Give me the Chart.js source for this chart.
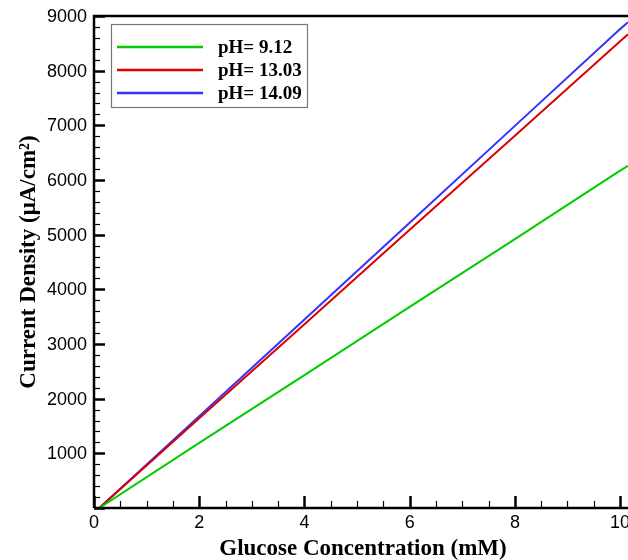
<!DOCTYPE html>
<html>
<head>
<meta charset="utf-8">
<script src="https://cdn.jsdelivr.net/npm/chart.js@4"></script>
<style>
  html, body { margin: 0; padding: 0; background: #fff; }
  #wrap { width: 628px; height: 560px; }
</style>
</head>
<body>
<div id="wrap"><canvas id="myChart" width="628" height="560"></canvas></div>
<script>
// glucose concentration (mM)
const conc = [0.1, 2, 4, 6, 8, 10, 10.15];
// current density (uA/cm2) per pH
const ph912 = [0, 1190, 2430, 3680, 4920, 6170, 6260];
const ph1303 = [0, 1640, 3360, 5090, 6810, 8540, 8665];
const ph1409 = [0, 1680, 3450, 5220, 6990, 8760, 8885];
const seriesLabels = ['pH= 9.12', 'pH= 13.03', 'pH= 14.09'];
const seriesColors = ['#00cc00', '#dd0000', '#3333ff'];
const xTicks = [0, 2, 4, 6, 8, 10];
const yTicks = [1000, 2000, 3000, 4000, 5000, 6000, 7000, 8000, 9000];

const toPts = (ys) => conc.map((x, i) => ({ x: x, y: ys[i] }));

const frame = {
  id: 'frame',
  afterDraw(chart) {
    const c = chart.ctx;
    const a = chart.chartArea;
    const xs = chart.scales.x, ys = chart.scales.y;
    c.save();
    c.strokeStyle = '#000';
    // ticks, inward
    for (let v = 0; v <= 9000; v += 200) {
      const p = Math.round(ys.getPixelForValue(v)) + 0.5;
      const len = v % 1000 === 0 ? 11 : 6;
      c.lineWidth = v % 1000 === 0 ? 2.5 : 1.2;
      c.beginPath(); c.moveTo(a.left, p); c.lineTo(a.left + len, p); c.stroke();
    }
    for (let v = 0; v <= 10.1; v += 0.5) {
      const p = Math.round(xs.getPixelForValue(v)) + 0.5;
      const major = Math.abs(v / 2 - Math.round(v / 2)) < 1e-6;
      c.lineWidth = major ? 2.5 : 1.2;
      const len = major ? 12 : 7;
      c.beginPath(); c.moveTo(p, a.bottom); c.lineTo(p, a.bottom - len); c.stroke();
    }
    // frame
    c.lineWidth = 2.5;
    c.beginPath();
    c.moveTo(a.left, a.bottom); c.lineTo(a.left, a.top); c.lineTo(a.right + 2, a.top);
    c.moveTo(a.left, a.bottom); c.lineTo(a.right + 2, a.bottom);
    c.stroke();

    // tick labels
    c.fillStyle = '#000';
    c.font = '18px "Liberation Sans", Arial, sans-serif';
    c.textAlign = 'right'; c.textBaseline = 'middle';
    yTicks.forEach(v => c.fillText(String(v), a.left - 7, ys.getPixelForValue(v) + 1));
    c.textAlign = 'center'; c.textBaseline = 'alphabetic';
    xTicks.forEach(v => c.fillText(String(v), xs.getPixelForValue(v), a.bottom + 20));

    // axis titles
    c.font = 'bold 23px "Liberation Serif", "Times New Roman", serif';
    c.fillText('Glucose Concentration (mM)', 363, 555);
    c.save();
    c.translate(35, 262);
    c.rotate(-Math.PI / 2);
    c.fillText('Current Density (\u03bcA/cm\u00b2)', 0, 0);
    c.restore();

    // legend box
    c.fillStyle = '#fff';
    c.fillRect(111, 24, 196, 83);
    c.strokeStyle = '#777';
    c.lineWidth = 1.2;
    c.strokeRect(111.5, 24.5, 196, 83);
    c.font = 'bold 19px "Liberation Serif", "Times New Roman", serif';
    c.textAlign = 'left'; c.textBaseline = 'alphabetic';
    seriesLabels.forEach((lab, i) => {
      const y = 47 + i * 23;
      c.strokeStyle = seriesColors[i];
      c.lineWidth = 2.5;
      c.beginPath(); c.moveTo(117, y); c.lineTo(203, y); c.stroke();
      c.fillStyle = '#000';
      c.fillText(lab, 218, y + 6);
    });
    c.restore();
  }
};

const ctx = document.getElementById('myChart').getContext('2d');
const chart = new Chart(ctx, {
  type: 'line',
  data: {
    datasets: [ph912, ph1303, ph1409].map((d, i) => ({
      label: seriesLabels[i],
      data: toPts(d),
      borderColor: seriesColors[i],
      backgroundColor: seriesColors[i],
      borderWidth: 2,
      pointRadius: 0,
      tension: 0,
      fill: false
    }))
  },
  options: {
    responsive: false,
    animation: false,
    layout: { padding: { top: 16, right: 0, left: 0, bottom: 0 } },
    plugins: { legend: { display: false }, tooltip: { enabled: false } },
    scales: {
      x: {
        type: 'linear', min: 0, max: 10.15,
        grid: { display: false, drawTicks: false },
        border: { display: false },
        ticks: { display: false },
        afterFit: (s) => { s.height = 52; }
      },
      y: {
        type: 'linear', min: 0, max: 9000,
        grid: { display: false, drawTicks: false },
        border: { display: false },
        ticks: { display: false },
        afterFit: (s) => { s.width = 94; }
      }
    }
  },
  plugins: [frame]
});
</script>
</body>
</html>
